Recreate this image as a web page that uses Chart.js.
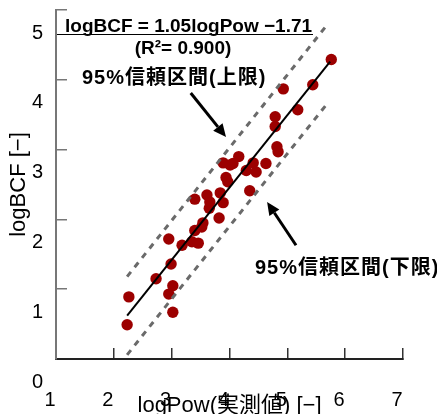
<!DOCTYPE html>
<html>
<head>
<meta charset="utf-8">
<script src="https://cdn.jsdelivr.net/npm/chart.js@4"></script>
<style>
  html, body { margin: 0; padding: 0; background: #fff; }
  #wrap { width: 437px; height: 414px; }
</style>
</head>
<body>
<div id="wrap"><canvas id="chart" width="437" height="414"></canvas></div>
<script>
// measured logPow vs logBCF
const pointX = [2.23, 2.26, 2.73, 2.95, 3.02, 3.02, 2.99, 2.95, 3.18, 3.35, 3.46, 3.40, 3.54, 3.52,
  3.82, 3.65, 3.40, 3.61, 3.66, 3.89, 3.84, 3.97, 3.94, 3.89, 4.01, 4.06, 4.16, 4.29, 4.41, 4.46,
  4.63, 4.35, 4.82, 4.84, 4.79, 4.79, 5.18, 4.93, 5.44, 5.76];
const pointY = [0.49, 0.89, 1.15, 0.93, 1.05, 0.67, 1.36, 1.72, 1.63, 1.68, 1.66, 1.84, 1.95, 1.89,
  2.02, 2.16, 2.29, 2.35, 2.25, 2.24, 2.38, 2.54, 2.60, 2.81, 2.78, 2.80, 2.90, 2.70, 2.81, 2.68,
  2.80, 2.41, 3.04, 2.97, 3.47, 3.33, 3.57, 3.87, 3.93, 4.29];

// regression line and 95% band ends
const fitX = [2.23, 5.74];
const fitY = [0.62, 4.26];
const upperX = [2.23, 5.69];
const upperY = [1.18, 4.79];
const lowerX = [2.23, 5.70];
const lowerY = [0.06, 3.67];

const xTicks = [1, 2, 3, 4, 5, 6, 7];
const yTicks = [0, 1, 2, 3, 4, 5];

const LATIN = "'Liberation Sans', Arial, sans-serif";
const MIXED = "'Liberation Sans', 'Noto Sans CJK JP', sans-serif";

function pairs(xs, ys) {
  return xs.map((x, i) => ({ x, y: ys[i] }));
}

function arrow(ctx, x1, y1, x2, y2) {
  const ang = Math.atan2(y2 - y1, x2 - x1);
  const head = 13, half = 6;
  const bx = x2 - head * Math.cos(ang), by = y2 - head * Math.sin(ang);
  ctx.beginPath();
  ctx.moveTo(x1, y1);
  ctx.lineTo(bx, by);
  ctx.stroke();
  ctx.beginPath();
  ctx.moveTo(x2, y2);
  ctx.lineTo(bx + half * Math.sin(ang), by - half * Math.cos(ang));
  ctx.lineTo(bx - half * Math.sin(ang), by + half * Math.cos(ang));
  ctx.closePath();
  ctx.fill();
}

const notes = {
  id: "notes",
  afterDraw(chart) {
    const { ctx, scales: { x, y } } = chart;
    ctx.save();
    ctx.fillStyle = "#000";
    ctx.strokeStyle = "#000";

    ctx.font = "bold 19px " + LATIN;
    ctx.textBaseline = "alphabetic";
    ctx.textAlign = "left";
    ctx.fillText("logBCF = 1.05logPow \u22121.71", 65, 32);
    ctx.lineWidth = 1;
    ctx.beginPath();
    ctx.moveTo(57, 34.5);
    ctx.lineTo(313, 34.5);
    ctx.stroke();

    ctx.textAlign = "center";
    ctx.fillText("(R\u00b2= 0.900)", 183, 54);

    ctx.font = "bold 20px " + MIXED;
    ctx.textAlign = "left";
    ctx.textBaseline = "middle";
    ctx.letterSpacing = "1px";
    ctx.fillText("95%信頼区間(上限)", 82, 78);
    ctx.fillText("95%信頼区間(下限)", 255, 268);

    ctx.lineWidth = 3;
    arrow(ctx, x.getPixelForValue(3.33), y.getPixelForValue(3.81),
      x.getPixelForValue(3.94), y.getPixelForValue(3.18));
    arrow(ctx, x.getPixelForValue(5.15), y.getPixelForValue(1.63),
      x.getPixelForValue(4.65), y.getPixelForValue(2.25));
    ctx.restore();
  }
};

new Chart(document.getElementById("chart"), {
  type: "scatter",
  data: {
    datasets: [
      { data: pairs(fitX, fitY), showLine: true, borderColor: "#000", borderWidth: 2, pointRadius: 0 },
      { data: pairs(upperX, upperY), showLine: true, borderColor: "#6a6a6a", borderWidth: 3,
        borderDash: [6, 6], pointRadius: 0 },
      { data: pairs(lowerX, lowerY), showLine: true, borderColor: "#6a6a6a", borderWidth: 3,
        borderDash: [6, 6], pointRadius: 0 },
      { data: pairs(pointX, pointY), backgroundColor: "#9c0000", borderWidth: 0, pointRadius: 5.7 }
    ]
  },
  options: {
    responsive: false,
    animation: false,
    layout: { padding: { top: 10, right: 34, left: 0, bottom: 0 } },
    plugins: { legend: { display: false }, tooltip: { enabled: false } },
    scales: {
      x: {
        type: "linear",
        min: xTicks[0],
        max: xTicks[xTicks.length - 1],
        afterBuildTicks: (s) => { s.ticks = xTicks.map((v) => ({ value: v })); },
        afterFit: (s) => { s.height = 55; s.paddingLeft = 0; s.paddingRight = 0; },
        ticks: { color: "#000", font: { family: LATIN, size: 20 }, labelOffset: -6, padding: 40 },
        grid: { drawOnChartArea: false, tickLength: -11, color: "#333", lineWidth: 1.5 },
        border: { color: "#222", width: 2 },
        title: {
          display: true, text: "logPow(実測値) [\u2212]", color: "#000",
          font: { family: MIXED, size: 22, lineHeight: 1 }, padding: { top: 0, bottom: -3 }
        }
      },
      y: {
        min: yTicks[0],
        max: yTicks[yTicks.length - 1],
        afterBuildTicks: (s) => { s.ticks = yTicks.map((v) => ({ value: v })); },
        afterFit: (s) => { s.width = 56; s.paddingTop = 0; s.paddingBottom = 0; },
        ticks: { color: "#000", font: { family: LATIN, size: 20 }, labelOffset: 23, padding: 24 },
        grid: { drawOnChartArea: false, tickLength: -11, color: "#777", lineWidth: 1.5 },
        border: { color: "#777", width: 2 },
        title: {
          display: true, text: "logBCF [\u2212]", color: "#000",
          font: { family: LATIN, size: 22, lineHeight: 1 }, padding: { top: 8, bottom: 0 }
        }
      }
    }
  },
  plugins: [notes]
});
</script>
</body>
</html>
